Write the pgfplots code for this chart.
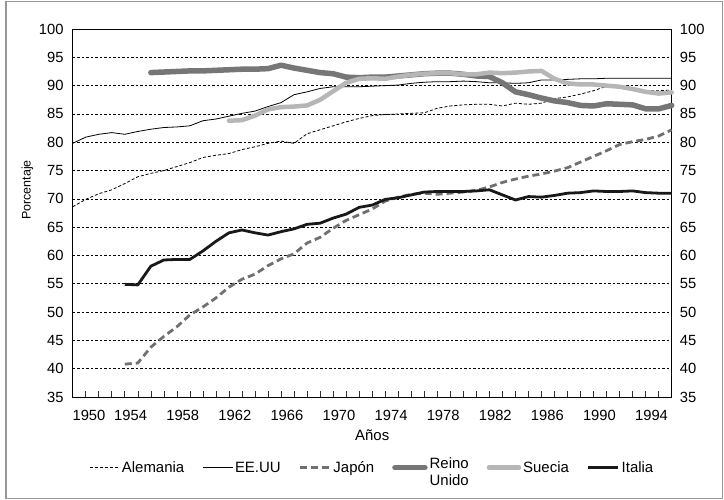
\documentclass[border=0pt]{standalone}
\usepackage{fontspec}
\setmainfont{Liberation Sans}
\usepackage{pgfplots}
\pgfplotsset{compat=1.18}
\definecolor{ukgray}{RGB}{118,118,118}
\definecolor{segray}{RGB}{182,182,182}
\definecolor{jpgray}{RGB}{112,112,112}
\definecolor{framegray}{RGB}{150,150,150}
\begin{document}
\begin{tikzpicture}
\path[use as bounding box] (0,0) rectangle (724bp,500bp);
\draw[framegray, line width=1.2bp] (6bp,1.5bp) rectangle (722.5bp,498.5bp);
\begin{axis}[
  at={(72.7bp,103bp)}, anchor=south west,
  scale only axis, width=599bp, height=368bp,
  xmin=1950, xmax=1996, ymin=35, ymax=100,
  clip=false, no markers,
  ytick={35,40,...,100},
  xtick={1951.25,1954.45,1958.45,1962.45,1966.45,1970.45,1974.45,1978.45,1982.45,1986.45,1990.45,1994.45},
  xticklabels={1950,1954,1958,1962,1966,1970,1974,1978,1982,1986,1990,1994},
  minor xtick={1951,...,1995},
  major tick length=0pt, minor tick length=6bp, tick align=inside,
  xtick pos=bottom, ytick pos=left,
  minor tick style={black!80, line width=0.6bp},
  axis line style={black, line width=0.8bp},
  ymajorgrids,
  major grid style={black, dash pattern=on 2.5bp off 2bp, line width=0.6bp},
  /pgf/number format/assume math mode=true,
  tick label style={font=\fontsize{14.8}{16}\selectfont},
  yticklabel style={inner sep=0pt, xshift=-9bp},
  xticklabel style={inner sep=0pt, yshift=-13bp, anchor=north},
  xlabel={Años},
  xlabel style={at={(axis description cs:0.5,0)}, anchor=north, inner sep=0pt, yshift=-32.3bp, font=\fontsize{15}{16}\selectfont},
  ylabel={Porcentaje},
  every axis y label/.style={at={(axis description cs:-0.0755,0.5625)}, rotate=90, anchor=center, inner sep=0pt, font=\fontsize{12.5}{14}\selectfont},
  legend columns=6,
  legend cell align=left,
  legend style={draw=none, fill=none, at={(axis description cs:0.5,-0.192)}, anchor=center,
    font=\fontsize{15}{17.3}\selectfont,
    /tikz/every even column/.append style={column sep=16bp}},
  legend image code/.code={\draw[#1] (0bp,0bp) -- (30bp,0bp);},
]
% Alemania
\addplot[black, line width=0.8bp, dash pattern=on 3bp off 2bp] table {
x y
1950 68.6
1951 69.9
1952 70.9
1953 71.6
1954 72.7
1955 73.9
1956 74.5
1957 75.0
1958 75.7
1959 76.4
1960 77.3
1961 77.7
1962 78.0
1963 78.7
1964 79.2
1965 79.8
1966 80.2
1967 79.8
1968 81.5
1969 82.2
1970 82.9
1971 83.6
1972 84.2
1973 84.7
1974 84.9
1975 85.0
1976 85.1
1977 85.2
1978 86.0
1979 86.4
1980 86.6
1981 86.7
1982 86.7
1983 86.4
1984 86.9
1985 86.7
1986 86.9
1987 87.7
1988 88.0
1989 88.5
1990 89.1
1991 89.9
1992 89.9
1993 89.6
1994 89.1
1995 89.1
1996 89.2
};
\addlegendentry{Alemania}
% EE.UU
\addplot[black, line width=0.8bp, line join=round] table {
x y
1950 79.8
1951 80.9
1952 81.4
1953 81.7
1954 81.4
1955 81.9
1956 82.3
1957 82.6
1958 82.7
1959 82.9
1960 83.8
1961 84.1
1962 84.6
1963 85.1
1964 85.5
1965 86.3
1966 87.0
1967 88.4
1968 88.9
1969 89.5
1970 89.8
1971 89.8
1972 89.8
1973 89.9
1974 90.0
1975 90.1
1976 90.4
1977 90.6
1978 90.7
1979 90.7
1980 90.8
1981 90.7
1982 90.5
1983 90.5
1984 90.4
1985 90.5
1986 91.0
1987 91.0
1988 91.1
1989 91.2
1990 91.2
1991 91.3
1992 91.3
1993 91.3
1994 91.3
1995 91.3
1996 91.3
};
\addlegendentry{EE.UU}
% Japon
\addplot[jpgray, line width=2.8bp, dash pattern=on 7bp off 4bp] table {
x y
1954 40.8
1955 41.0
1956 43.8
1957 45.7
1958 47.4
1959 49.5
1960 50.9
1961 52.5
1962 54.4
1963 55.8
1964 56.7
1965 58.2
1966 59.4
1967 60.3
1968 62.2
1969 63.2
1970 64.8
1971 66.2
1972 67.2
1973 68.2
1974 69.6
1975 70.3
1976 70.8
1977 71.0
1978 70.8
1979 71.0
1980 71.2
1981 71.5
1982 72.1
1983 72.9
1984 73.5
1985 74.0
1986 74.4
1987 74.9
1988 75.5
1989 76.5
1990 77.5
1991 78.5
1992 79.6
1993 80.1
1994 80.5
1995 81.1
1996 82.2
};
\addlegendentry{Japón}
% Reino Unido
\addplot[ukgray, line width=5.5bp, line cap=round, line join=round] table {
x y
1956 92.3
1957 92.4
1958 92.5
1959 92.6
1960 92.6
1961 92.7
1962 92.8
1963 92.9
1964 92.9
1965 93.0
1966 93.6
1967 93.1
1968 92.7
1969 92.3
1970 92.1
1971 91.5
1972 91.4
1973 91.5
1974 91.5
1975 91.7
1976 91.9
1977 92.1
1978 92.2
1979 92.2
1980 92.0
1981 91.7
1982 91.6
1983 90.5
1984 88.9
1985 88.4
1986 87.8
1987 87.3
1988 87.0
1989 86.5
1990 86.4
1991 86.8
1992 86.7
1993 86.6
1994 85.9
1995 85.9
1996 86.5
};
\addlegendentry{\begin{tabular}{@{}l@{}}Reino\\Unido\end{tabular}}
% Suecia
\addplot[segray, line width=4.5bp, line cap=round, line join=round] table {
x y
1962 83.8
1963 83.9
1964 84.7
1965 85.8
1966 86.2
1967 86.3
1968 86.5
1969 87.5
1970 89.0
1971 90.5
1972 91.2
1973 91.3
1974 91.2
1975 91.6
1976 91.9
1977 92.1
1978 92.2
1979 92.2
1980 92.0
1981 92.0
1982 92.3
1983 92.2
1984 92.3
1985 92.5
1986 92.6
1987 91.2
1988 90.4
1989 90.2
1990 90.2
1991 90.0
1992 89.8
1993 89.4
1994 88.9
1995 88.6
1996 88.8
};
\addlegendentry{Suecia}
% Italia
\addplot[black!90, line width=2.8bp, line join=round] table {
x y
1954 54.9
1955 54.8
1956 58.1
1957 59.2
1958 59.3
1959 59.3
1960 60.8
1961 62.5
1962 64.0
1963 64.5
1964 64.0
1965 63.6
1966 64.2
1967 64.7
1968 65.5
1969 65.7
1970 66.6
1971 67.3
1972 68.5
1973 68.9
1974 69.9
1975 70.2
1976 70.7
1977 71.2
1978 71.3
1979 71.3
1980 71.3
1981 71.4
1982 71.6
1983 70.7
1984 69.8
1985 70.4
1986 70.3
1987 70.6
1988 71.0
1989 71.1
1990 71.4
1991 71.3
1992 71.3
1993 71.4
1994 71.1
1995 71.0
1996 71.0
};
\addlegendentry{Italia}
\end{axis}
\begin{axis}[
  at={(72.7bp,103bp)}, anchor=south west,
  scale only axis, width=599bp, height=368bp,
  xmin=1950, xmax=1996, ymin=35, ymax=100,
  hide x axis, axis y line*=right,
  y axis line style={draw=none},
  ytick={35,40,...,100},
  major tick length=0pt,
  /pgf/number format/assume math mode=true,
  yticklabel style={inner sep=0pt, xshift=8bp, font=\fontsize{14.8}{16}\selectfont},
]
\addplot[draw=none] coordinates {(1950,35) (1996,100)};
\end{axis}
\end{tikzpicture}
\end{document}
